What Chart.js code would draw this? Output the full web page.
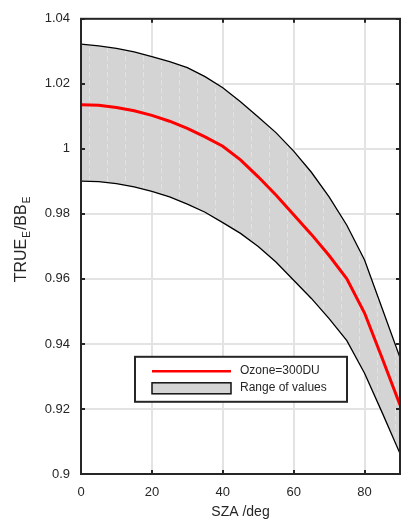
<!DOCTYPE html>
<html>
<head>
<meta charset="utf-8">
<script src="https://cdn.jsdelivr.net/npm/chart.js@4"></script>
<style>
  html, body { margin: 0; padding: 0; background: #fff; }
  #wrap { width: 406px; height: 528px; }
</style>
</head>
<body>
<div id="wrap"><canvas id="chart" width="406" height="528"></canvas></div>
<script>
// solar zenith angle samples
const sza = [0, 5, 10, 15, 20, 25, 30, 35, 40, 45, 50, 55, 60, 65, 70, 75, 80, 85, 90];
const ozone300 = [1.0136, 1.0134, 1.0127, 1.0117, 1.0103, 1.0085, 1.0063, 1.0037, 1.0008, 0.9966,
  0.9914, 0.9858, 0.9797, 0.9737, 0.9672, 0.9600, 0.9495, 0.9355, 0.9212];
const rangeHigh = [1.0322, 1.0317, 1.0309, 1.0298, 1.0284, 1.0268, 1.0250, 1.0222, 1.0188, 1.0145,
  1.0098, 1.0050, 0.9993, 0.9928, 0.9852, 0.9765, 0.9658, 0.9508, 0.9358];
const rangeLow = [0.9901, 0.9899, 0.9893, 0.9883, 0.9869, 0.9852, 0.9830, 0.9805, 0.9773, 0.9740,
  0.9700, 0.9652, 0.9596, 0.9540, 0.9478, 0.9410, 0.9310, 0.9188, 0.9063];
const xTicks = [0, 20, 40, 60, 80];
const yTicks = [0.9, 0.92, 0.94, 0.96, 0.98, 1, 1.02, 1.04];
const legendLabels = ["Ozone=300DU", "Range of values"];

const FONT = "'Liberation Sans', Arial, Helvetica, sans-serif";
const TEXT = "#262626";
const BAND = "#d4d4d4";

const toPoints = (ys) => sza.map((x, i) => ({ x, y: ys[i] }));

// grey band with the faint dashed streaks of the original export
function bandPattern() {
  const c = document.createElement("canvas");
  c.width = 18;
  c.height = 8;
  const g = c.getContext("2d");
  g.fillStyle = BAND;
  g.fillRect(0, 0, 18, 8);
  g.fillStyle = "#e2e2e2";
  g.fillRect(17, 0, 1, 5);
  return g.createPattern(c, "repeat");
}

// box, inward ticks, legend and y title
const framePlugin = {
  id: "frame",
  afterDatasetsDraw(chart) {
    const { ctx, chartArea: a, scales } = chart;
    const x = scales.x, y = scales.y;
    ctx.save();
    ctx.strokeStyle = "#262626";
    ctx.beginPath();
    xTicks.forEach((t) => {
      const px = Math.round(x.getPixelForValue(t));
      ctx.moveTo(px, a.bottom); ctx.lineTo(px, a.bottom - 4);
      ctx.moveTo(px, a.top); ctx.lineTo(px, a.top + 4);
    });
    yTicks.forEach((t) => {
      const py = Math.round(y.getPixelForValue(t));
      ctx.moveTo(a.left, py); ctx.lineTo(a.left + 4, py);
      ctx.moveTo(a.right, py); ctx.lineTo(a.right - 4, py);
    });
    ctx.lineWidth = 2;
    ctx.stroke();
    ctx.strokeRect(a.left, a.top, a.right - a.left, a.bottom - a.top);

    // legend
    const lx = a.left + 54, ly = a.top + 338, lw = 212, lh = 45;
    ctx.fillStyle = "#fff";
    ctx.fillRect(lx, ly, lw, lh);
    ctx.strokeStyle = "#262626";
    ctx.lineWidth = 2;
    ctx.strokeRect(lx, ly, lw, lh);
    ctx.strokeStyle = "#ff0000";
    ctx.lineWidth = 2.5;
    ctx.beginPath();
    ctx.moveTo(lx + 17, ly + 14.5); ctx.lineTo(lx + 96, ly + 14.5);
    ctx.stroke();
    ctx.fillStyle = BAND;
    ctx.fillRect(lx + 17, ly + 26, 79, 11);
    ctx.strokeStyle = "#111";
    ctx.lineWidth = 1.5;
    ctx.strokeRect(lx + 17, ly + 26, 79, 11);
    ctx.fillStyle = TEXT;
    ctx.font = "12px " + FONT;
    ctx.textBaseline = "middle";
    ctx.textAlign = "left";
    ctx.fillText(legendLabels[0], lx + 105, ly + 14);
    ctx.fillText(legendLabels[1], lx + 105, ly + 31);

    // y title with subscripts
    ctx.textBaseline = "alphabetic";
    ctx.translate(25.5, 239);
    ctx.rotate(-Math.PI / 2);
    const parts = [["TRUE", 16, 0], ["E", 10, 4], ["/BB", 16, 0], ["E", 10, 4]];
    let total = 0;
    parts.forEach(([s, size]) => { ctx.font = size + "px " + FONT; total += ctx.measureText(s).width + 1; });
    let cx = -total / 2;
    parts.forEach(([s, size, dy]) => {
      ctx.font = size + "px " + FONT;
      ctx.fillText(s, cx, dy);
      cx += ctx.measureText(s).width + 1;
    });
    ctx.restore();
  }
};

new Chart(document.getElementById("chart"), {
  type: "line",
  data: {
    datasets: [
      {
        label: legendLabels[0],
        data: toPoints(ozone300),
        borderColor: "#ff0000",
        borderWidth: 3,
        pointRadius: 0,
        fill: false
      },
      {
        label: "upper",
        data: toPoints(rangeHigh),
        borderColor: "#000",
        borderWidth: 1.3,
        pointRadius: 0,
        fill: false
      },
      {
        label: legendLabels[1],
        data: toPoints(rangeLow),
        borderColor: "#000",
        borderWidth: 1.3,
        pointRadius: 0,
        backgroundColor: bandPattern(),
        fill: "-1"
      }
    ]
  },
  options: {
    responsive: false,
    animation: false,
    layout: { padding: { top: 17, right: 6, left: 0, bottom: 0 } },
    plugins: {
      legend: { display: false },
      tooltip: { enabled: false }
    },
    scales: {
      x: {
        type: "linear",
        min: 0,
        max: 90,
        afterBuildTicks: (s) => { s.ticks = xTicks.map((v) => ({ value: v })); },
        afterFit: (s) => { s.height = 54; },
        grid: { color: "#e3e3e3", lineWidth: 2, drawTicks: false },
        border: { display: false },
        ticks: {
          padding: 11,
          color: TEXT,
          font: { family: FONT, size: 13 },
          callback: (v) => String(v)
        },
        title: {
          display: true,
          text: "SZA /deg",
          color: TEXT,
          font: { family: FONT, size: 14 },
          padding: { top: 0, bottom: 7 }
        }
      },
      y: {
        type: "linear",
        min: 0.9,
        max: 1.04,
        afterBuildTicks: (s) => { s.ticks = yTicks.map((v) => ({ value: v })); },
        afterFit: (s) => { s.width = 81; },
        grid: { color: "#e3e3e3", lineWidth: 2, drawTicks: false },
        border: { display: false },
        ticks: {
          padding: 11,
          color: TEXT,
          font: { family: FONT, size: 13 },
          callback: (v) => String(parseFloat(Number(v).toFixed(2)))
        }
      }
    }
  },
  plugins: [framePlugin]
});
</script>
</body>
</html>
